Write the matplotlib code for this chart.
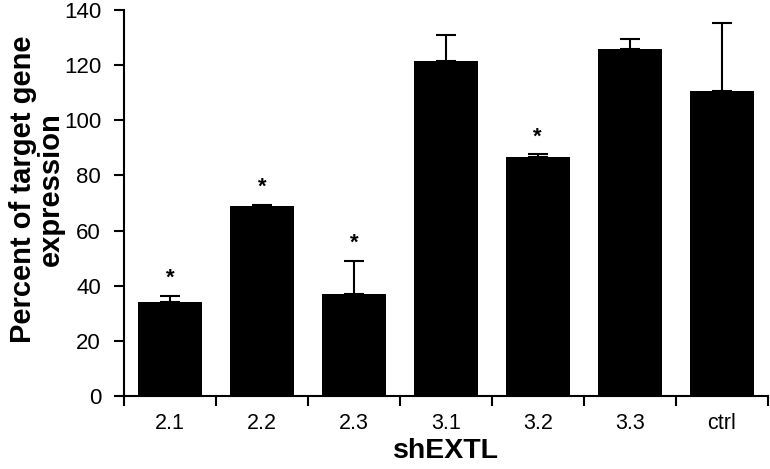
import matplotlib
matplotlib.use("Agg")
import matplotlib.pyplot as plt
import numpy as np

categories = ["2.1", "2.2", "2.3", "3.1", "3.2", "3.3", "ctrl"]
values = [34.0, 69.0, 37.0, 121.5, 86.8, 125.7, 110.6]
errors = [2.3, 0.3, 12.0, 9.6, 0.8, 3.6, 24.7]
significant = [True, True, True, False, True, False, False]

plt.rcParams['font.family'] = ['Liberation Sans', 'DejaVu Sans']

fig = plt.figure(figsize=(7.7, 4.69), dpi=100)
ax = fig.add_axes([0.161, 0.1557, 0.836, 0.823])

x = np.arange(len(categories))
ax.bar(x, values, width=0.7, color='black', zorder=2)
ax.errorbar(x, values, yerr=[np.zeros(len(errors)), errors], fmt='none',
            ecolor='black', elinewidth=1.5, capsize=7, capthick=1.5, zorder=3)

for xi, v, e, s in zip(x, values, errors, significant):
    if s:
        ax.text(xi, v + e + 2.5, "*", ha='center', va='bottom', fontsize=16, fontweight='bold')

ax.set_xlim(-0.5, len(categories) - 0.5)
ax.set_ylim(0, 140)
ax.set_yticks(np.arange(0, 141, 20))
ax.set_xticks(np.arange(-0.5, len(categories), 1.0))
ax.set_xticklabels([])
ax.set_xticks(x, minor=True)
ax.set_xticklabels(categories, minor=True)
ax.tick_params(axis='x', which='minor', length=0, labelsize=15.5, pad=12)
ax.tick_params(axis='x', which='major', length=7.5, width=1.5, direction='out')
ax.tick_params(axis='y', length=7.5, width=1.5, direction='out', labelsize=16, pad=9)

for sp in ['top', 'right']:
    ax.spines[sp].set_visible(False)
for sp in ['left', 'bottom']:
    ax.spines[sp].set_linewidth(1.5)

ax.set_xlabel("shEXTL", fontsize=20.5, fontweight='bold', labelpad=3)
ax.set_ylabel("Percent of target gene\nexpression", fontsize=21, fontweight='bold',
              labelpad=8, linespacing=1.0)
ax.yaxis.set_label_coords(-0.092, 0.535)

fig.savefig("out.png", dpi=100)
